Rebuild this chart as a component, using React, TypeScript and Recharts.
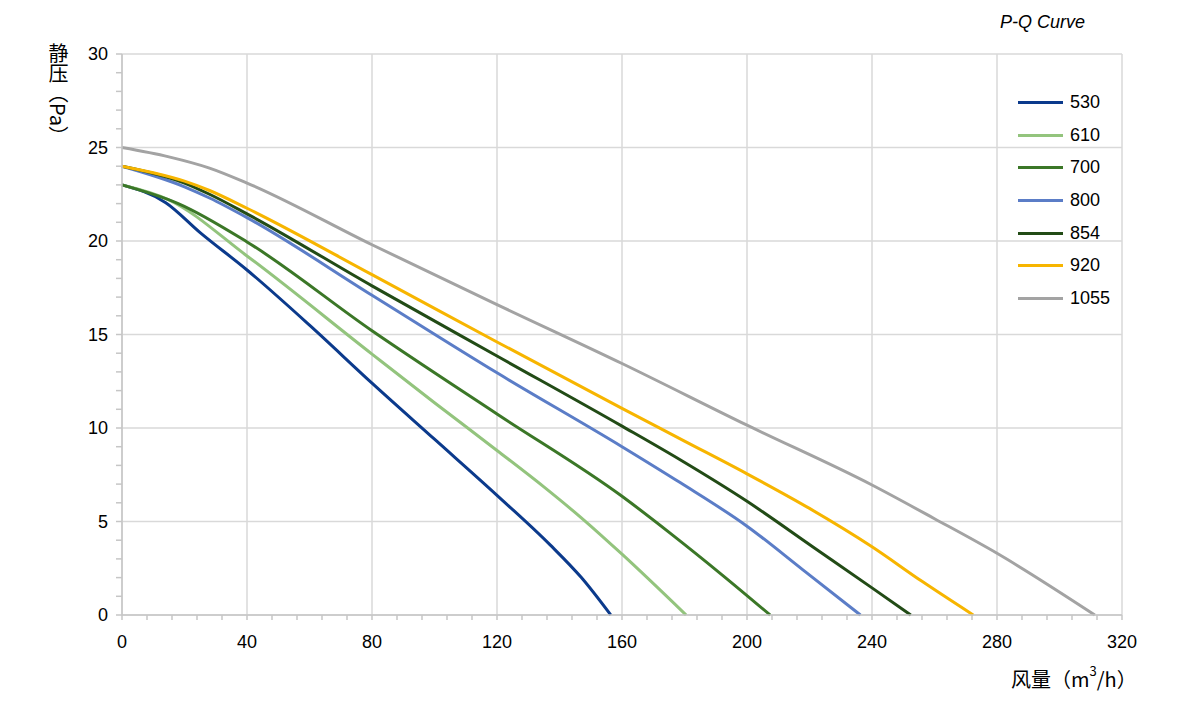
import { LineChart, Line, XAxis, YAxis, CartesianGrid } from "recharts";

// airflow (m3/h) vs static pressure (Pa)
const s530 = [
  { q: 0, p: 23 }, { q: 14, p: 22.05 }, { q: 25, p: 20.45 }, { q: 40, p: 18.45 },
  { q: 60, p: 15.5 }, { q: 80, p: 12.4 }, { q: 100, p: 9.4 }, { q: 120, p: 6.4 },
  { q: 137, p: 3.75 }, { q: 147, p: 2.0 }, { q: 156.4, p: 0 },
];
const s610 = [
  { q: 0, p: 23 }, { q: 15, p: 22.2 }, { q: 40, p: 19.2 }, { q: 80, p: 13.95 },
  { q: 100, p: 11.35 }, { q: 120, p: 8.8 }, { q: 135, p: 6.85 }, { q: 148, p: 5.05 },
  { q: 160, p: 3.25 }, { q: 180.5, p: 0 },
];
const s700 = [
  { q: 0, p: 23 }, { q: 18, p: 22.0 }, { q: 40, p: 19.95 }, { q: 80, p: 15.2 },
  { q: 120, p: 10.75 }, { q: 160, p: 6.35 }, { q: 176, p: 4.3 }, { q: 192, p: 2.15 },
  { q: 207.4, p: 0 },
];
const s800 = [
  { q: 0, p: 24 }, { q: 20, p: 22.9 }, { q: 28, p: 22.3 }, { q: 40, p: 21.25 },
  { q: 80, p: 17.1 }, { q: 120, p: 12.95 }, { q: 160, p: 9.0 }, { q: 178.6, p: 7.08 },
  { q: 200, p: 4.75 }, { q: 218, p: 2.4 }, { q: 236.3, p: 0 },
];
const s854 = [
  { q: 0, p: 24 }, { q: 20, p: 23.1 }, { q: 28, p: 22.5 }, { q: 40, p: 21.45 },
  { q: 80, p: 17.6 }, { q: 120, p: 13.85 }, { q: 160, p: 10.1 }, { q: 178.6, p: 8.3 },
  { q: 200, p: 6.08 }, { q: 221, p: 3.65 }, { q: 240, p: 1.45 }, { q: 252.4, p: 0 },
];
const s920 = [
  { q: 0, p: 24 }, { q: 10, p: 23.65 }, { q: 20, p: 23.2 }, { q: 28, p: 22.7 },
  { q: 40, p: 21.75 }, { q: 80, p: 18.2 }, { q: 120, p: 14.6 }, { q: 160, p: 11.05 },
  { q: 180, p: 9.3 }, { q: 200, p: 7.55 }, { q: 220, p: 5.7 }, { q: 240, p: 3.65 },
  { q: 256, p: 1.8 }, { q: 272.4, p: 0 },
];
const s1055 = [
  { q: 0, p: 25 }, { q: 15, p: 24.5 }, { q: 28, p: 23.9 }, { q: 40, p: 23.1 },
  { q: 80, p: 19.8 }, { q: 120, p: 16.6 }, { q: 160, p: 13.45 }, { q: 200, p: 10.15 },
  { q: 240, p: 6.95 }, { q: 260, p: 5.15 }, { q: 280, p: 3.3 }, { q: 311.3, p: 0 },
];

const series = [
  { name: "530", data: s530, color: "#0b3a8c" },
  { name: "610", data: s610, color: "#93c47d" },
  { name: "700", data: s700, color: "#3b7727" },
  { name: "800", data: s800, color: "#5b7dc7" },
  { name: "854", data: s854, color: "#224b16" },
  { name: "920", data: s920, color: "#f7b500" },
  { name: "1055", data: s1055, color: "#a3a3a3" },
];

const xMajor = [0, 40, 80, 120, 160, 200, 240, 280, 320];
const yMajor = [0, 5, 10, 15, 20, 25, 30];
const xMinor = Array.from({ length: 41 }, (_, i) => i * 8);
const yMinor = Array.from({ length: 31 }, (_, i) => i);

const font = '"Liberation Sans", Arial, "Noto Sans CJK SC", sans-serif';
const axisGrey = "#c6c6c6";

export default function App() {
  return (
    <div style={{ position: "absolute", left: 0, top: 0, width: 1200, height: 701, background: "#fff", fontFamily: font }}>
      <LineChart width={1200} height={701} margin={{ top: 54, right: 78, bottom: 0, left: 0 }}>
        <CartesianGrid stroke="#d9d9d9" strokeWidth={1.5} verticalValues={xMajor} horizontalValues={yMajor} />
        <XAxis
          type="number"
          dataKey="q"
          domain={[0, 320]}
          ticks={xMinor}
          interval={0}
          tickFormatter={(v: number) => (v % 40 === 0 ? String(v) : "")}
          height={86}
          tickSize={5}
          tickMargin={15}
          axisLine={{ stroke: axisGrey, strokeWidth: 1.5 }}
          tickLine={{ stroke: axisGrey, strokeWidth: 1.5 }}
          tick={{ fill: "#000", fontSize: 18, fontFamily: font }}
          allowDuplicatedCategory={false}
        />
        <YAxis
          type="number"
          dataKey="p"
          domain={[0, 30]}
          ticks={yMinor}
          interval={0}
          tickFormatter={(v: number) => (v % 5 === 0 ? String(v) : "")}
          width={122}
          tickSize={6}
          tickMargin={8}
          axisLine={{ stroke: axisGrey, strokeWidth: 1.5 }}
          tickLine={{ stroke: axisGrey, strokeWidth: 1.5 }}
          tick={{ fill: "#000", fontSize: 18, fontFamily: font }}
        />
        {series.map((s) => (
          <Line
            key={s.name}
            name={s.name}
            data={s.data}
            dataKey="p"
            type="monotone"
            stroke={s.color}
            strokeWidth={3}
            dot={false}
            activeDot={false}
            isAnimationActive={false}
          />
        ))}
      </LineChart>

      <div style={{ position: "absolute", left: 1000, top: 12, fontSize: 18, fontStyle: "italic", color: "#000" }}>P-Q Curve</div>

      <div
        style={{
          position: "absolute",
          left: 47,
          top: 43,
          writingMode: "vertical-rl",
          fontSize: 20,
          lineHeight: "22px",
          color: "#000",
          fontFamily: '"Noto Sans CJK SC", "Liberation Sans", sans-serif',
        }}
      >
        静压（Pa）
      </div>

      <div
        style={{
          position: "absolute",
          left: 1011,
          top: 664,
          fontSize: 20,
          color: "#000",
          whiteSpace: "nowrap",
          fontFamily: '"Noto Sans CJK SC", "Liberation Sans", sans-serif',
        }}
      >
        风量（m<sup style={{ fontSize: 13, verticalAlign: "top", lineHeight: "14px" }}>3</sup>/h）
      </div>

      <div style={{ position: "absolute", left: 1018, top: 86 }}>
        {series.map((s) => (
          <div key={s.name} style={{ display: "flex", alignItems: "center", height: 32.7 }}>
            <div style={{ width: 45, height: 3, background: s.color, marginRight: 7 }} />
            <span style={{ fontSize: 18, color: "#000" }}>{s.name}</span>
          </div>
        ))}
      </div>
    </div>
  );
}
